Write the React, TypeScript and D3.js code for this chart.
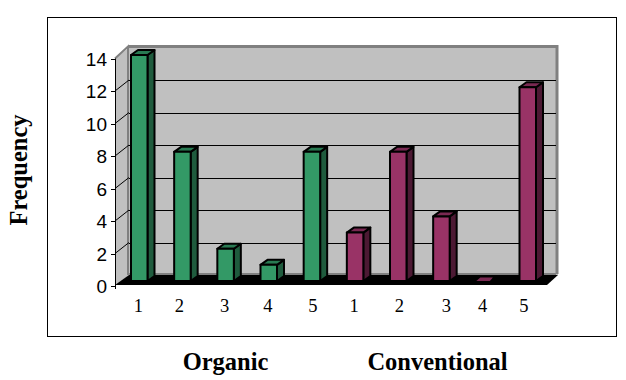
import React from "react";
import * as d3 from "d3";

const organicValues = [14, 8, 2, 1, 8];
const conventionalValues = [3, 8, 4, 0, 12];
const barLabels = ["1", "2", "3", "4", "5", "1", "2", "3", "4", "5"];
const yTicks = [0, 2, 4, 6, 8, 10, 12, 14];
const labelNudge = [-1, -3, -1, -1, 1, -1, 1, 5, -2, -4];

const GREEN = { front: "#339966", side: "#1f5b3d", top: "#297a52" };
const PURPLE = { front: "#993366", side: "#4c1933", top: "#7a2952" };

const pts = (a: number[][]) => a.map((p) => p.join(",")).join(" ");

export default function App() {
  const W = 626, H = 380;
  const DX = 14, DY = 11;
  const axisX = 115, wallR = 558;
  const yFront = d3.scaleLinear().domain([0, 14]).range([286, 58.5]);
  const yBack = (v: number) => yFront(v) - DY;
  const yBar = d3.scaleLinear().domain([0, 14]).range([281, 55]);
  const x = d3.scaleLinear().domain([0, 9]).range([131, 519.5]);
  const bw = 16.5, bdx = 7, bdy = 5;
  const bars = [
    ...organicValues.map((v) => ({ v, c: GREEN })),
    ...conventionalValues.map((v) => ({ v, c: PURPLE })),
  ];
  return (
    <svg width={W} height={H} style={{ position: "absolute", left: 0, top: 0, background: "#fff" }}>
      <rect x={47.5} y={17.5} width={569} height={319} fill="#fff" stroke="#000" strokeWidth={1} />

      {/* back wall */}
      <rect x={axisX + DX} y={yBack(14)} width={wallR - axisX - DX} height={yBack(0) - yBack(14)} fill="#c0c0c0" />
      <path d={`M${axisX + DX - 1},${yBack(14) - 1}H${wallR - 1}V${yBack(0) - 1}`} fill="none" stroke="#808080" strokeWidth={3} />
      {/* left wall */}
      <polygon points={pts([[axisX, yFront(14)], [axisX + DX, yBack(14)], [axisX + DX, yBack(0)], [axisX, yFront(0)]])} fill="#c0c0c0" />
      <polyline points={pts([[axisX, yFront(14)], [axisX + DX - 1, yBack(14) - 1], [axisX + DX - 1, yBack(0)]])} fill="none" stroke="#808080" strokeWidth={2} />
      <line x1={axisX + DX} x2={wallR - 2} y1={yBack(0) - 1} y2={yBack(0) - 1} stroke="#808080" strokeWidth={2} />

      {/* gridlines */}
      {yTicks.filter((t) => t > 0 && t < 14).map((t) => (
        <g key={t}>
          <line x1={axisX + DX} x2={wallR - 2} y1={Math.round(yBack(t)) + 0.5} y2={Math.round(yBack(t)) + 0.5} stroke="#000" strokeWidth={1} />
          <line x1={axisX} x2={axisX + DX} y1={yFront(t)} y2={yBack(t)} stroke="#000" strokeWidth={1} />
        </g>
      ))}

      {/* floor */}
      <polygon points={pts([[axisX, yFront(0) - 1], [axisX + DX, yBack(0)], [wallR, yBack(0)], [547, 285], [axisX + 2, 285]])} fill="#000" />

      {/* axis */}
      <line x1={axisX + 0.5} x2={axisX + 0.5} y1={yFront(14)} y2={yFront(0) + 3} stroke="#000" strokeWidth={1} />
      {yTicks.map((t) => (
        <g key={t}>
          <line x1={axisX - 4} x2={axisX + 1} y1={Math.round(yFront(t)) + 0.5} y2={Math.round(yFront(t)) + 0.5} stroke="#000" strokeWidth={1} />
          <text x={107} y={yFront(t) + 7} textAnchor="end" fontFamily="Liberation Sans" fontSize={19} fill="#000">{t}</text>
        </g>
      ))}

      {/* bars */}
      {bars.map((b, i) => {
        const l = x(i), r = l + bw, t = yBar(b.v), bot = yBar(0);
        if (b.v === 0) {
          return <polygon key={i} points={pts([[l, bot], [r - 3, bot], [r, bot - bdy + 1.5], [l + 4, bot - bdy + 1.5]])} fill={b.c.top} />;
        }
        const style = { stroke: "#000", strokeWidth: 2, strokeLinejoin: "round" as const };
        return (
          <g key={i}>
            <polygon points={pts([[r, t], [r + bdx, t - bdy], [r + bdx, bot - bdy], [r, bot]])} fill={b.c.side} {...style} />
            <polygon points={pts([[l, t], [l + bdx, t - bdy], [r + bdx, t - bdy], [r, t]])} fill={b.c.top} {...style} />
            <rect x={l} y={t} width={bw} height={bot - t} fill={b.c.front} {...style} />
          </g>
        );
      })}

      {/* category labels */}
      {barLabels.map((s, i) => (
        <text key={i} x={x(i) + bw / 2 + labelNudge[i]} y={312} textAnchor="middle" fontFamily="Liberation Serif" fontSize={18.5} fill="#000">{s}</text>
      ))}

      <text transform="translate(27,170) rotate(-90)" textAnchor="middle" fontFamily="Liberation Serif" fontWeight="bold" fontSize={24.5} fill="#000">Frequency</text>
      <text x={225.5} y={370} textAnchor="middle" fontFamily="Liberation Serif" fontWeight="bold" fontSize={24.5} fill="#000">Organic</text>
      <text x={437.5} y={370} textAnchor="middle" fontFamily="Liberation Serif" fontWeight="bold" fontSize={24.5} fill="#000">Conventional</text>
    </svg>
  );
}
